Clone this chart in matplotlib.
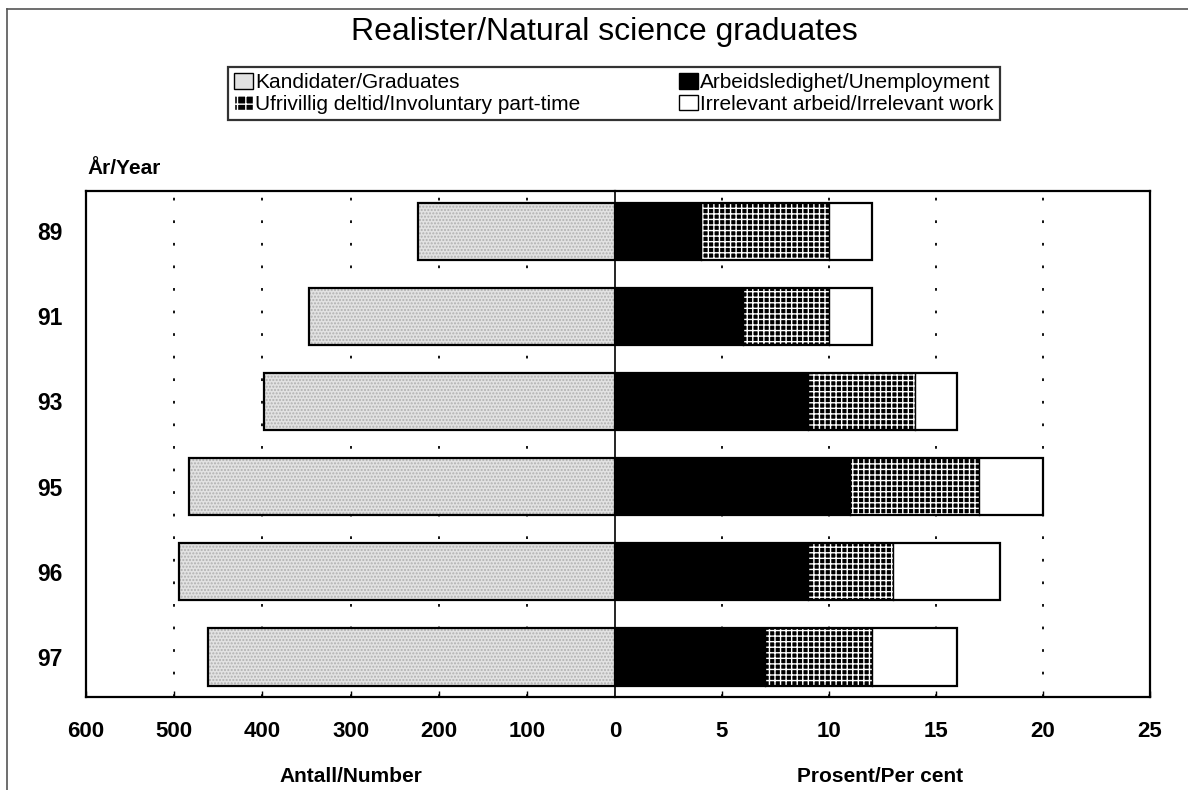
import matplotlib
matplotlib.use("Agg")
import matplotlib.pyplot as plt
from matplotlib.patches import Patch
from matplotlib.lines import Line2D
import numpy as np

plt.rcParams['font.family'] = ['Liberation Sans', 'DejaVu Sans']

# data
years = ['89', '91', '93', '95', '96', '97']
graduates = [223, 347, 398, 483, 495, 462]          # Antall/Number
unemployment = [4, 6, 9, 11, 9, 7]                  # per cent
part_time = [6, 4, 5, 6, 4, 5]                      # per cent
irrelevant = [2, 2, 2, 3, 5, 4]                     # per cent

left_ticks = [600, 500, 400, 300, 200, 100, 0]
right_ticks = [5, 10, 15, 20, 25]

W, H = 1188, 790
fig = plt.figure(figsize=(W / 100, H / 100), dpi=100)

def fx(px):
    return px / W

def fy(py):
    return 1 - py / H

x0, xm, x1 = 86, 615, 1150
ytop, ybot = 191, 697
axL = fig.add_axes([fx(x0), fy(ybot), fx(xm - x0), fy(ytop) - fy(ybot)])
axR = fig.add_axes([fx(xm), fy(ybot), fx(x1 - xm), fy(ytop) - fy(ybot)])

y = np.arange(len(years))
h = 0.67
lw = 1.6

# left: graduates (light grey stipple)
axL.barh(y, graduates, height=h, color='#e2e2e2', edgecolor='#b0b0b0',
         hatch='.....', linewidth=0)
axL.barh(y, graduates, height=h, color='none', edgecolor='black', linewidth=lw)

# right: stacked per cent bars
axR.barh(y, unemployment, height=h, color='black', edgecolor='black', linewidth=0)
axR.barh(y, part_time, left=unemployment, height=h, color='black',
         edgecolor='white', hatch='+++', linewidth=0)
left3 = np.array(unemployment) + np.array(part_time)
axR.barh(y, irrelevant, left=left3, height=h, color='white', linewidth=0)
total = left3 + np.array(irrelevant)
axR.barh(y, total, height=h, color='none', edgecolor='black', linewidth=lw)
for yy, a, b in zip(y, unemployment, left3):
    axR.plot([a, a], [yy - h / 2, yy + h / 2], color='black', lw=1.0)
    axR.plot([b, b], [yy - h / 2, yy + h / 2], color='black', lw=1.0)

axL.set_xlim(600, 0)
axR.set_xlim(0, 25)
axL.set_xticks(left_ticks)
axR.set_xticks(right_ticks)
for ax in (axL, axR):
    ax.set_ylim(len(years) - 0.53, -0.47)
    ax.set_axisbelow(True)
    for s in ax.spines.values():
        s.set_linewidth(1.6)
    ax.tick_params(axis='x', direction='in', length=4, width=1, pad=17,
                   labelsize=16)
    for t in ax.get_xticklabels():
        t.set_fontweight('bold')

for v in left_ticks[1:-1]:
    axL.axvline(v, color='black', lw=1.3, linestyle=(0, (1.5, 11)), zorder=0)
for v in right_ticks[:-1]:
    axR.axvline(v, color='black', lw=1.3, linestyle=(0, (1.5, 11)), zorder=0)

axL.spines['right'].set_visible(False)
axR.spines['left'].set_linewidth(1.2)
axL.set_yticks(y)
axL.set_yticklabels(years, fontsize=16.5, fontweight='bold')
axL.tick_params(axis='y', length=0, pad=17)
axR.set_yticks([])

fig.text(fx(351), fy(777), 'Antall/Number', fontsize=15, fontweight='bold',
         ha='center', va='center')
fig.text(fx(880), fy(777), 'Prosent/Per cent', fontsize=15, fontweight='bold',
         ha='center', va='center')

fig.text(fx(87), fy(168), 'År/Year', fontsize=15, fontweight='bold', va='center')
fig.text(fx(604), fy(32), 'Realister/Natural science graduates',
         fontsize=23, ha='center', va='center')

handles = [
    Patch(facecolor='#e2e2e2', edgecolor='black', label='Kandidater/Graduates'),
    Patch(facecolor='black', edgecolor='white', hatch='++',
          label='Ufrivillig deltid/Involuntary part-time'),
    Patch(facecolor='black', edgecolor='black', label='Arbeidsledighet/Unemployment'),
    Patch(facecolor='white', edgecolor='black', label='Irrelevant arbeid/Irrelevant work'),
]
leg = fig.legend(handles=handles, ncol=2, mode='expand', loc='lower left',
                 bbox_to_anchor=(fx(228), fy(120), fx(1000) - fx(228), fy(70) - fy(120)),
                 borderaxespad=0, fontsize=15, handlelength=0.9, handleheight=0.8,
                 handletextpad=0.1, labelspacing=0.1, borderpad=0.3,
                 fancybox=False, frameon=True, edgecolor='black')
leg.get_frame().set_linewidth(1.6)

# outer frame (top and left only visible in the scan)
fig.add_artist(Line2D([fx(7), fx(7)], [fy(9), 0], color='#555555', lw=1.2))
fig.add_artist(Line2D([fx(7), 1], [fy(9), fy(9)], color='#555555', lw=1.2))

fig.savefig('out.png', dpi=100)
